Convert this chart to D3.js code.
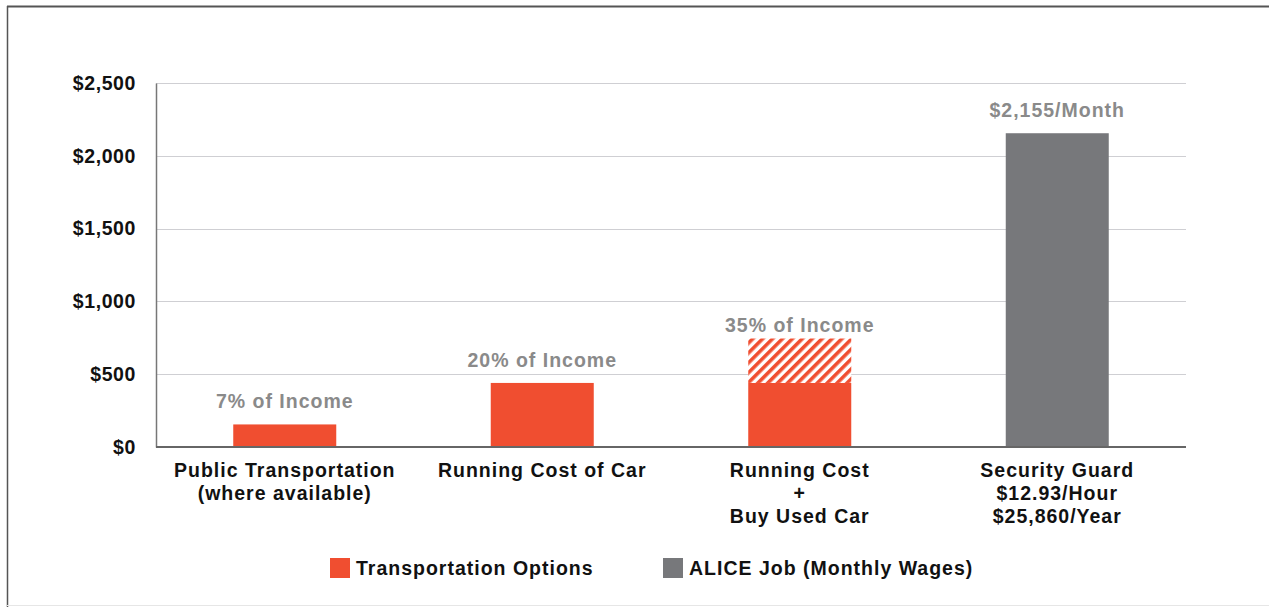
<!DOCTYPE html>
<html>
<head>
<meta charset="utf-8">
<script src="https://cdn.jsdelivr.net/npm/d3@7"></script>
<style>
  html, body { margin: 0; padding: 0; background: #fff; }
  svg { display: block; font-family: "Liberation Sans", Arial, sans-serif; }
</style>
</head>
<body>
<svg id="chart" width="1269" height="607"></svg>
<script>
// ---- Data ----
const categories = [
  ["Public Transportation", "(where available)"],
  ["Running Cost of Car"],
  ["Running Cost", "+", "Buy Used Car"],
  ["Security Guard", "$12.93/Hour", "$25,860/Year"]
];
const transportBase = [155, 440, 440, 0];
const transportExtra = [0, 0, 305, 0];
const aliceWages = [0, 0, 0, 2155];
const valueLabels = ["7% of Income", "20% of Income", "35% of Income", "$2,155/Month"];
const yTicks = [0, 500, 1000, 1500, 2000, 2500];
const legendLabels = ["Transportation Options", "ALICE Job (Monthly Wages)"];

// ---- Setup ----
const W = 1269, H = 607;
const svg = d3.select("#chart");
const orange = "#F04E30", gray = "#77787B", labelGray = "#8a8a8a";
const labelShift = [0, 0, 9, 0]; // vertical nudge of value labels (px)

// frame
svg.append("line").attr("x1", 7).attr("x2", W).attr("y1", 6.5).attr("y2", 6.5)
  .attr("stroke", "#555").attr("stroke-width", 2);
svg.append("line").attr("x1", 7.5).attr("x2", 7.5).attr("y1", 6).attr("y2", H)
  .attr("stroke", "#555").attr("stroke-width", 1.5);
svg.append("line").attr("x1", 7).attr("x2", W).attr("y1", 605.5).attr("y2", 605.5)
  .attr("stroke", "#e6e6e6").attr("stroke-width", 1);

const x = d3.scaleBand().domain(d3.range(categories.length))
  .range([156, 1186]).paddingInner(0.6).paddingOuter(0.3);
const y = d3.scaleLinear().domain([0, 2500]).range([447, 83]);

// hatch pattern
const defs = svg.append("defs");
const pat = defs.append("pattern").attr("id", "hatch").attr("patternUnits", "userSpaceOnUse")
  .attr("width", 7).attr("height", 7).attr("patternTransform", "rotate(45)");
pat.append("rect").attr("width", 7).attr("height", 7).attr("fill", "#fff");
pat.append("rect").attr("x", 0).attr("width", 3.6).attr("height", 7).attr("fill", orange);

// gridlines
const grid = svg.append("g");
grid.selectAll("line").data(yTicks.filter(d => d > 0)).join("line")
  .attr("x1", 156).attr("x2", 1186)
  .attr("y1", d => Math.round(y(d)) + 0.5).attr("y2", d => Math.round(y(d)) + 0.5)
  .attr("stroke", "#cfcfd3").attr("stroke-width", 1.2);

// y axis
const yAxis = svg.append("g").attr("transform", "translate(156,0)")
  .call(d3.axisLeft(y).tickValues(yTicks).tickSize(0).tickPadding(20)
    .tickFormat(d => "$" + d3.format(",")(d)));
yAxis.select(".domain").attr("stroke", "#777").attr("stroke-width", 1.5);
yAxis.selectAll("text").attr("font-size", 19.5).attr("font-weight", "bold")
  .attr("letter-spacing", 0.6)
  .attr("fill", "#111").attr("font-family", "Liberation Sans, Arial, sans-serif");

// bars
const idx = d3.range(categories.length);
const bw = x.bandwidth();
svg.append("g").selectAll("rect").data(idx.filter(i => transportBase[i] > 0)).join("rect")
  .attr("x", i => x(i)).attr("width", bw)
  .attr("y", i => y(transportBase[i])).attr("height", i => y(0) - y(transportBase[i]))
  .attr("fill", orange);
svg.append("g").selectAll("rect").data(idx.filter(i => transportExtra[i] > 0)).join("rect")
  .attr("x", i => x(i)).attr("width", bw)
  .attr("y", i => y(transportBase[i] + transportExtra[i]))
  .attr("height", i => y(transportBase[i]) - y(transportBase[i] + transportExtra[i]))
  .attr("fill", "url(#hatch)");
svg.append("g").selectAll("rect").data(idx.filter(i => aliceWages[i] > 0)).join("rect")
  .attr("x", i => x(i)).attr("width", bw)
  .attr("y", i => y(aliceWages[i])).attr("height", i => y(0) - y(aliceWages[i]))
  .attr("fill", gray);

// x axis baseline
svg.append("line").attr("x1", 156).attr("x2", 1186).attr("y1", 447).attr("y2", 447)
  .attr("stroke", "#666").attr("stroke-width", 1.8);

// value labels
svg.append("g").selectAll("text").data(idx).join("text")
  .attr("x", i => x(i) + bw / 2)
  .attr("y", i => y(transportBase[i] + transportExtra[i] + aliceWages[i]) - 16 + labelShift[i])
  .attr("text-anchor", "middle").attr("font-size", 19.5).attr("font-weight", "bold")
  .attr("letter-spacing", 1.0)
  .attr("fill", labelGray).text(i => valueLabels[i]);

// category labels
const cat = svg.append("g").selectAll("text").data(idx).join("text")
  .attr("text-anchor", "middle").attr("font-size", 19.5).attr("font-weight", "bold")
  .attr("letter-spacing", 1.0)
  .attr("fill", "#111");
cat.each(function(i) {
  d3.select(this).selectAll("tspan").data(categories[i]).join("tspan")
    .attr("x", x(i) + bw / 2).attr("y", (d, k) => 477 + k * 23).text(d => d);
});

// legend
const legend = [
  { label: legendLabels[0], color: orange, x: 330 },
  { label: legendLabels[1], color: gray, x: 663 }
];
const lg = svg.append("g").selectAll("g").data(legend).join("g")
  .attr("transform", d => `translate(${d.x},558)`);
lg.append("rect").attr("width", 20).attr("height", 20).attr("fill", d => d.color);
lg.append("text").attr("x", 26).attr("y", 17).attr("font-size", 19.5).attr("font-weight", "bold")
  .attr("letter-spacing", 1.0)
  .attr("fill", "#111").text(d => d.label);
</script>
</body>
</html>
